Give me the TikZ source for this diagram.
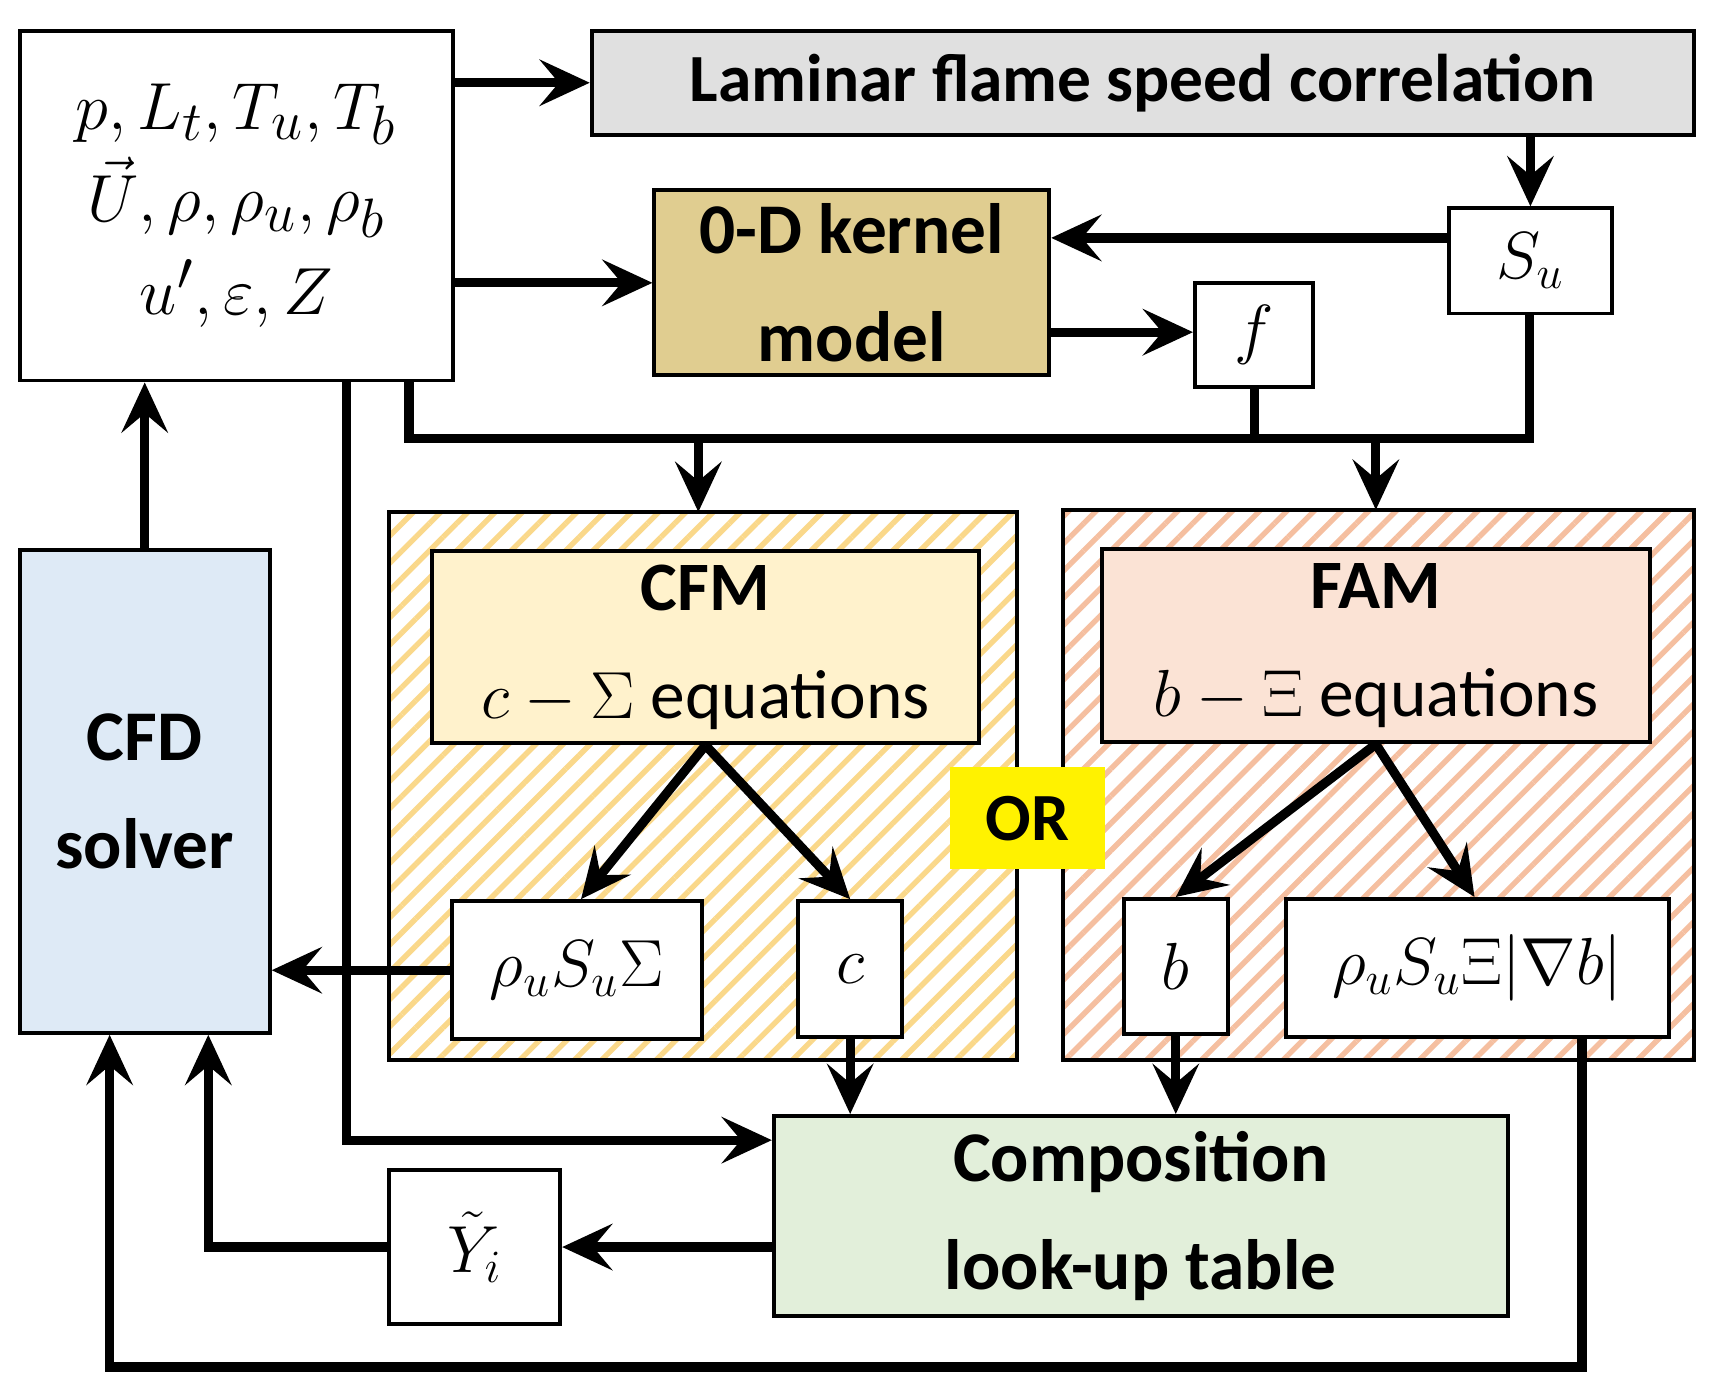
\documentclass[tikz,border=0pt]{standalone}
\usepackage{fontspec}
\setmainfont{Carlito}
\usetikzlibrary{arrows.meta,patterns.meta}
\definecolor{gr}{HTML}{E0E0E0}
\definecolor{tan}{HTML}{E0CD90}
\definecolor{cfmin}{HTML}{FFF2CC}
\definecolor{famin}{HTML}{FBE3D5}
\definecolor{cfdb}{HTML}{DEEAF6}
\definecolor{compg}{HTML}{E2EFDA}
\definecolor{hy}{HTML}{FAD88A}
\definecolor{hs}{HTML}{F5BFA0}
\begin{document}
\begin{tikzpicture}[x=0.01cm,y=-0.01cm,
  box/.style={draw,line width=1pt,inner sep=0pt,font=\fontsize{17.5}{25}\selectfont\bfseries,align=center},
  mbox/.style={box,font=\fontsize{18.5}{22}\selectfont},
  con/.style={line width=2.4pt},
  arr/.style={con,-{Stealth[length=13pt,width=12pt,inset=5pt]}}]
\useasboundingbox (0,0) rectangle (1568,1267);
\fill[white] (0,0) rectangle (1568,1267);
\path[pattern={Lines[angle=45,distance=5pt,line width=1.4pt]},pattern color=hy] (355,467) rectangle (928,967);
\draw[line width=1pt] (355,467) rectangle (928,967);
\path[pattern={Lines[angle=45,distance=5pt,line width=1.4pt]},pattern color=hs] (970,465) rectangle (1545,967);
\draw[line width=1pt] (970,465) rectangle (1545,967);
\node[box,fill=white,font=\fontsize{19}{27}\selectfont,minimum width=3.95cm,minimum height=3.19cm] (in) at (215.5,187.5)
 {$p,L_t,T_u,T_b$\\[-3pt] $\vec{U},\rho,\rho_u,\rho_b$\\[-3pt] $u',\varepsilon,Z$};
\node[box,fill=gr,minimum width=10.05cm,minimum height=0.95cm] (lam) at (1042.5,75.5) {Laminar flame speed correlation};
\node[mbox,fill=white,minimum width=1.48cm,minimum height=0.96cm] (su) at (1396,238) {$S_u$};
\node[box,fill=tan,font=\fontsize{18.5}{28}\selectfont\bfseries,minimum width=3.6cm,minimum height=1.69cm] (k) at (777,257.5) {0-D kernel\\model};
\node[mbox,fill=white,minimum width=1.08cm,minimum height=0.95cm] (f) at (1144,305.5) {$f$};
\node[box,fill=cfmin,font=\fontsize{18}{28}\selectfont,minimum width=4.99cm,minimum height=1.75cm] (cfm) at (643.5,590.5) {\textbf{CFM}\\\mdseries $c-\Sigma$ equations};
\node[box,fill=famin,font=\fontsize{18}{28}\selectfont,minimum width=5.0cm,minimum height=1.76cm] (fam) at (1255,589) {\textbf{FAM}\\\mdseries $b-\Xi$ equations};
\node[box,draw=none,fill=yellow,minimum width=1.41cm,minimum height=0.93cm] (or) at (937.5,746.5) {OR};
\node[mbox,fill=white,minimum width=2.28cm,minimum height=1.26cm] (rs) at (526,885) {$\rho_uS_u\Sigma$};
\node[mbox,fill=white,minimum width=0.95cm,minimum height=1.24cm] (c) at (775.5,884) {$c$};
\node[mbox,fill=white,minimum width=0.95cm,minimum height=1.23cm] (b) at (1072.5,881.5) {$b$};
\node[mbox,fill=white,minimum width=3.49cm,minimum height=1.26cm] (rx) at (1347.5,883) {$\rho_uS_u\Xi|\nabla b|$};
\node[box,fill=cfdb,font=\fontsize{18.5}{28}\selectfont\bfseries,minimum width=2.28cm,minimum height=4.4cm] (cfd) at (132,722) {CFD\\solver};
\node[box,fill=compg,font=\fontsize{18.5}{28}\selectfont\bfseries,minimum width=6.69cm,minimum height=1.82cm] (comp) at (1040.5,1109) {Composition\\look-up table};
\node[mbox,fill=white,minimum width=1.56cm,minimum height=1.41cm] (y) at (433,1137.5) {$\tilde{Y}_i$};
\coordinate (a1) at (373,400); \coordinate (a2) at (1395,400);
\draw[arr] (in.east|-lam) -- (lam.west);
\draw[arr] (413,258) -- (k.west|-413,258);
\draw[arr] (lam.south-|su) -- (su.north);
\draw[arr] (su.west|-0,217) -- (k.east|-0,217);
\draw[arr] (k.east|-0,303) -- (f.west|-0,303);
\draw[con] (in.south-|a1) -- (a1) -- (a2) -- (su.south-|a2);
\draw[con] (f.south) -- (f.south|-a1);
\draw[arr] (637,400) -- (637,467);
\draw[arr] (1255,400) -- (1255,465);
\draw[arr] (cfm.south) -- (rs.north-|530,0);
\draw[arr] (cfm.south) -- (c.north);
\draw[arr] (fam.south) -- (b.north);
\draw[arr] (fam.south) -- (rx.north-|1345,0);
\draw[arr] (cfd.north) -- (in.south-|cfd);
\draw[arr] (rs.west) -- (cfd.east|-rs);
\draw[arr] (c.south) -- (comp.north-|c);
\draw[arr] (b.south) -- (comp.north-|b);
\draw[arr] (in.south-|316,0) -- (316,1040) -- (comp.west|-0,1040);
\draw[arr] (comp.west|-y) -- (y.east);
\draw[arr] (y.west) -- (190,1137.5) -- (cfd.south-|190,0);
\draw[arr] (rx.south-|1443,0) -- (1443,1247) -- (100,1247) -- (cfd.south-|100,0);
\end{tikzpicture}
\end{document}
